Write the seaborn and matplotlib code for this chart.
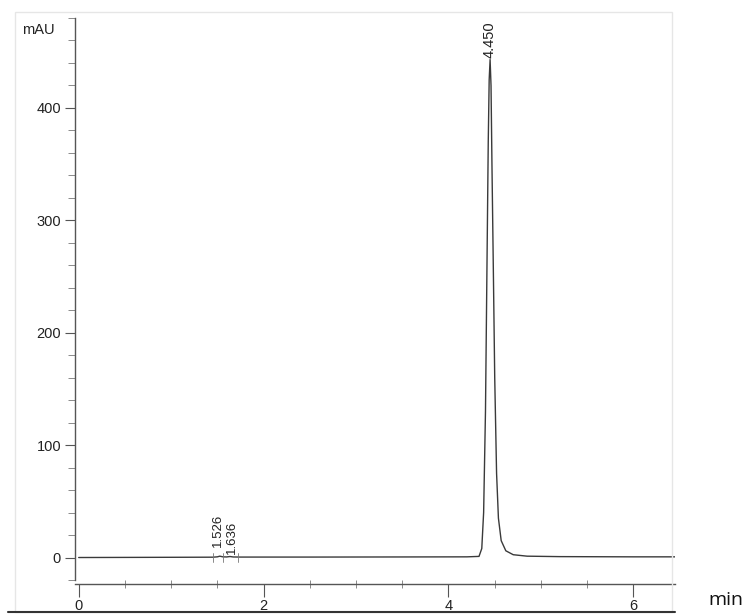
import matplotlib
matplotlib.use("Agg")
import matplotlib.pyplot as plt
from matplotlib.lines import Line2D
from matplotlib.patches import Rectangle
from matplotlib.ticker import MultipleLocator
import pandas as pd
import seaborn as sns

# Trace (min, mAU)
time = [0.00, 0.50, 1.00, 1.45, 1.50, 1.526, 1.56, 1.60, 1.636, 1.67, 1.75, 2.50,
        3.50, 4.20, 4.33, 4.36, 4.38, 4.40, 4.415, 4.43, 4.44, 4.45, 4.46, 4.47,
        4.486, 4.50, 4.52, 4.54, 4.57, 4.62, 4.70, 4.85, 5.20, 6.00, 6.45]
mau = [0.0, 0.1, 0.2, 0.3, 0.6, 1.2, 0.6, 0.5, 0.9, 0.5, 0.4, 0.4,
       0.5, 0.6, 1.0, 8.0, 40.0, 130.0, 250.0, 370.0, 425.0, 443.0, 420.0, 350.0,
       250.0, 160.0, 75.0, 35.0, 15.0, 6.0, 2.5, 1.2, 0.8, 0.6, 0.6]

# Peak annotations: retention time, label, height at label
peak_rt = [1.526, 1.636, 4.450]
peak_lbl = ["1.526", "1.636", "4.450"]
peak_h = [8.0, 2.0, 443.0]
peak_fs = [9.5, 9.5, 10.5]
label_shift = [-0.025, 0.025, 0.0]

df = pd.DataFrame({"min": time, "mAU": mau})

sns.set_style("ticks")
plt.rcParams["font.family"] = ["Liberation Sans", "DejaVu Sans"]

fig = plt.figure(figsize=(7.46, 6.15), dpi=100)
ax = fig.add_axes([75 / 746, 1 - 580 / 615, 600 / 746, 562 / 615])

sns.lineplot(data=df, x="min", y="mAU", ax=ax, color="#3a3a3a", linewidth=1.0)

ax.set_xlim(-0.04, 6.45)
ax.set_ylim(-20, 480)
ax.set_xlabel("")
ax.set_ylabel("")

ax.xaxis.set_major_locator(MultipleLocator(2))
ax.xaxis.set_minor_locator(MultipleLocator(0.5))
ax.yaxis.set_major_locator(MultipleLocator(100))
ax.yaxis.set_minor_locator(MultipleLocator(20))
ax.set_yticks(range(0, 401, 100))

ax.tick_params(axis="x", which="major", direction="out", length=9, width=0.8,
               color="#555555", labelsize=10.5, labelcolor="#222222", pad=2)
ax.tick_params(axis="x", which="minor", direction="inout", length=6, width=0.6,
               color="#777777")
ax.tick_params(axis="y", which="major", direction="out", length=7, width=0.8,
               color="#555555", labelsize=10.5, labelcolor="#222222", pad=3)
ax.tick_params(axis="y", which="minor", direction="out", length=5, width=0.6,
               color="#777777")

for side in ["top", "right"]:
    ax.spines[side].set_visible(False)
ax.spines["left"].set_color("#555555")
ax.spines["left"].set_linewidth(1.0)
ax.spines["bottom"].set_color("#555555")
ax.spines["bottom"].set_linewidth(1.0)
ax.spines["bottom"].set_position(("outward", 3))

for rt, lbl, h, fs, dx in zip(peak_rt, peak_lbl, peak_h, peak_fs, label_shift):
    ax.text(rt + dx, h + 1, lbl, rotation=90, ha="center", va="bottom",
            fontsize=fs, color="#222222")

# small peak start/end marks on the baseline
for rt in [1.45, 1.56, 1.72]:
    ax.plot([rt, rt], [-4, 4], color="#777777", linewidth=0.6)

fig.text(22 / 746, 1 - 30 / 615, "mAU", fontsize=10.5, color="#222222",
         ha="left", va="center")
fig.text(743 / 746, 1 - 600 / 615, "min", fontsize=14, color="#111111",
         ha="right", va="center", family=["Open Sans", "DejaVu Sans"])

# faint scan frame and bottom rule
fig.patches.append(Rectangle((15 / 746, 3 / 615), 657 / 746, 600 / 615,
                             transform=fig.transFigure, fill=False,
                             edgecolor="#e6e6e6", linewidth=1.0))
fig.lines.append(Line2D([8 / 746, 675 / 746], [1 - 612 / 615, 1 - 612 / 615],
                        transform=fig.transFigure, color="#333333", linewidth=1.5))

fig.savefig("out.png", dpi=100)
